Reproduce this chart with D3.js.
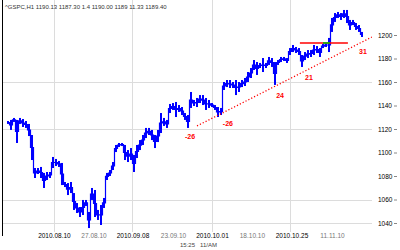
<!DOCTYPE html>
<html><head><meta charset="utf-8">
<script src="https://cdn.jsdelivr.net/npm/d3@7"></script>
<style>html,body{margin:0;padding:0;background:#fff;overflow:hidden}</style>
</head><body>
<svg id="c" width="400" height="250"></svg>
<script>
// hourly bars: high / low
const highs=[1126.8,1127.7,1129.4,1127.7,1129.4,1128.5,1126.8,1124.3,1114.9,1086.8,
1086.8,1087.7,1082.6,1083.4,1083.4,1096.2,1094.5,1092.8,1091.1,1074.9,
1074.0,1074.9,1065.5,1057.0,1053.6,1059.6,1059.6,1049.4,1069.8,1068.1,
1051.1,1055.3,1061.3,1082.6,1085.1,1091.9,1106.4,1108.1,1108.1,1106.4,
1102.1,1103.8,1097.9,1106.4,1110.6,1114.9,1120.9,1120.9,1119.2,1114.9,
1119.2,1133.6,1129.4,1127.7,1141.3,1142.1,1143.0,1140.4,1138.7,1133.6,
1131.9,1151.5,1144.7,1146.4,1148.9,1148.9,1146.4,1144.7,1142.1,1140.4,
1138.7,1137.9,1160.0,1161.7,1161.7,1160.0,1161.7,1160.0,1161.7,1163.4,
1168.5,1171.9,1178.7,1177.0,1176.2,1180.4,1176.2,1181.3,1180.4,1177.0,
1178.7,1181.3,1181.3,1180.4,1188.9,1191.5,1189.8,1188.9,1183.0,1185.5,
1187.2,1187.2,1191.5,1190.6,1188.9,1192.3,1193.2,1197.5,1214.5,1218.7,
1219.6,1218.7,1221.3,1221.3,1212.8,1212.8,1210.2,1208.5,1202.6];
const lows=[1124.3,1119.2,1126.0,1108.1,1124.3,1121.7,1120.9,1114.0,1093.6,1078.3,
1081.7,1078.3,1069.8,1076.6,1078.3,1086.8,1088.5,1087.7,1072.3,1070.6,
1063.8,1065.5,1051.1,1048.5,1045.1,1046.8,1054.5,1035.7,1059.6,1045.1,
1042.6,1038.3,1052.8,1076.6,1080.0,1085.1,1100.4,1104.7,1105.5,1093.6,
1091.9,1093.6,1083.4,1095.3,1102.1,1106.4,1112.3,1114.9,1110.6,1103.8,
1108.9,1116.6,1122.6,1120.9,1133.6,1136.2,1130.2,1134.5,1131.9,1127.7,
1120.9,1137.9,1139.6,1138.7,1142.1,1140.4,1136.2,1137.9,1138.7,1136.2,
1130.2,1131.9,1153.2,1155.7,1154.9,1154.9,1148.9,1151.5,1155.7,1156.6,
1160.0,1163.4,1170.2,1166.0,1171.9,1168.5,1171.9,1174.5,1172.8,1157.5,
1174.5,1177.0,1177.9,1176.2,1183.0,1185.5,1184.7,1183.0,1172.8,1178.7,
1180.4,1181.3,1183.0,1184.7,1181.3,1188.9,1189.8,1185.5,1202.6,1211.1,
1214.5,1212.8,1214.5,1210.2,1204.3,1208.5,1204.3,1202.6,1198.3];

const xTickPos=[15.3,28.5,41.5,55,68,81.3,94.5,108];
const xTickLabels=["2010.08.10","27.08.10","2010.09.08","23.09.10","2010.10.01","18.10.10","2010.10.25","11.11.10"];
const yTickValues=[1200,1180,1160,1140,1120,1100,1080,1060,1040];
const gridValues=[1160,1120,1060,1040];
const vGridPos=[15.3,41.3,68,94];
const trendIdx=[63,121.3];
const trendVal=[1122.6,1198.3];
const levelIdx=[97.3,113.3];
const levelVal=1193.2;
const greenIdx=[105,107.3];
const markIdx=[60.7,73.3,90.7,100.3,118.3];
const markVal=[1113.2,1124.3,1148.1,1163.4,1185.5];
const markText=["-26","-26","24","21","31"];
const titleText="^GSPC,H1  1190.13  1187.30 1.4  1190.00  1189  11.33  1189.40";

const svg=d3.select("#c");
const font="Liberation Sans, Arial, sans-serif";
const x=d3.scaleLinear().domain([0,118]).range([8,362]);
const y=d3.scaleLinear().domain([1040,1200]).range([223,35]);

// grid
svg.append("g").selectAll("line").data(gridValues).join("line")
  .attr("x1",3).attr("x2",372).attr("y1",d=>Math.round(y(d))+0.5).attr("y2",d=>Math.round(y(d))+0.5)
  .attr("stroke","#dcdcdc").attr("stroke-width",1);
svg.append("g").selectAll("line").data(vGridPos).join("line")
  .attr("x1",d=>Math.round(x(d))+0.5).attr("x2",d=>Math.round(x(d))+0.5).attr("y1",0).attr("y2",232)
  .attr("stroke","#dcdcdc").attr("stroke-width",1);

// left border
svg.append("line").attr("x1",2.5).attr("x2",2.5).attr("y1",0).attr("y2",236).attr("stroke","#000").attr("stroke-width",1);

// connecting step line through bar midpoints
const mids=highs.map((h,i)=>[i,(h+lows[i])/2]);
svg.append("path").datum(mids)
  .attr("d",d3.line().x(d=>x(d[0])).y(d=>y(d[1])).curve(d3.curveStep))
  .attr("fill","none").attr("stroke","#0000ff").attr("stroke-width",1.2);

// bars
svg.append("g").selectAll("rect").data(highs).join("rect")
  .attr("x",(d,i)=>x(i)-1).attr("width",2)
  .attr("y",(d,i)=>y(d)).attr("height",(d,i)=>Math.max(2,y(lows[i])-y(d)))
  .attr("fill","#0000ff");

// trend line
svg.append("line").attr("x1",x(trendIdx[0])).attr("y1",y(trendVal[0]))
  .attr("x2",x(trendIdx[1])).attr("y2",y(trendVal[1]))
  .attr("stroke","#ff0000").attr("stroke-width",1.3).attr("stroke-dasharray","1.2,2");
// level line
svg.append("line").attr("x1",x(levelIdx[0])).attr("x2",x(levelIdx[1]))
  .attr("y1",y(levelVal)).attr("y2",y(levelVal))
  .attr("stroke","#ff0000").attr("stroke-width",1.5);
svg.append("line").attr("x1",x(greenIdx[0])).attr("x2",x(greenIdx[1]))
  .attr("y1",y(levelVal)).attr("y2",y(levelVal))
  .attr("stroke","#00c000").attr("stroke-width",1.6);

// marks
svg.append("g").selectAll("text").data(markText).join("text")
  .attr("x",(d,i)=>x(markIdx[i])).attr("y",(d,i)=>y(markVal[i]))
  .attr("text-anchor","middle").attr("dominant-baseline","middle")
  .attr("font-family",font).attr("font-size",7).attr("font-weight","bold").attr("fill","#ff0000")
  .text(d=>d);

// right axis
const yAxis=d3.axisRight(y).tickValues(yTickValues).tickSize(0).tickPadding(0).tickFormat(d3.format("d"));
const gy=svg.append("g").attr("transform","translate(378,0)").call(yAxis);
gy.select(".domain").remove();
gy.selectAll("text").attr("font-family",font).attr("font-size",6.5).attr("fill","#000");
gy.selectAll(".tick").append("line").attr("x1",16).attr("x2",19).attr("stroke","#888");

// bottom axis
const xAxis=d3.axisBottom(x).tickValues(xTickPos).tickSize(0).tickPadding(0).tickFormat((d,i)=>xTickLabels[i]);
const gx=svg.append("g").attr("transform","translate(0,233)").call(xAxis);
gx.select(".domain").remove();
gx.selectAll("text").attr("font-family",font).attr("font-size",6.5)
  .attr("fill",(d,i)=>i%2===0?"#000":"#777");

// footer & title
svg.append("text").attr("x",180).attr("y",247).attr("font-family",font).attr("font-size",6).attr("fill","#444").text("15:25");
svg.append("text").attr("x",200).attr("y",247).attr("font-family",font).attr("font-size",6).attr("fill","#444").text("11/AM");
svg.append("text").attr("x",5).attr("y",9).attr("font-family",font).attr("font-size",6).attr("fill","#333").text(titleText);
</script>
</body></html>
